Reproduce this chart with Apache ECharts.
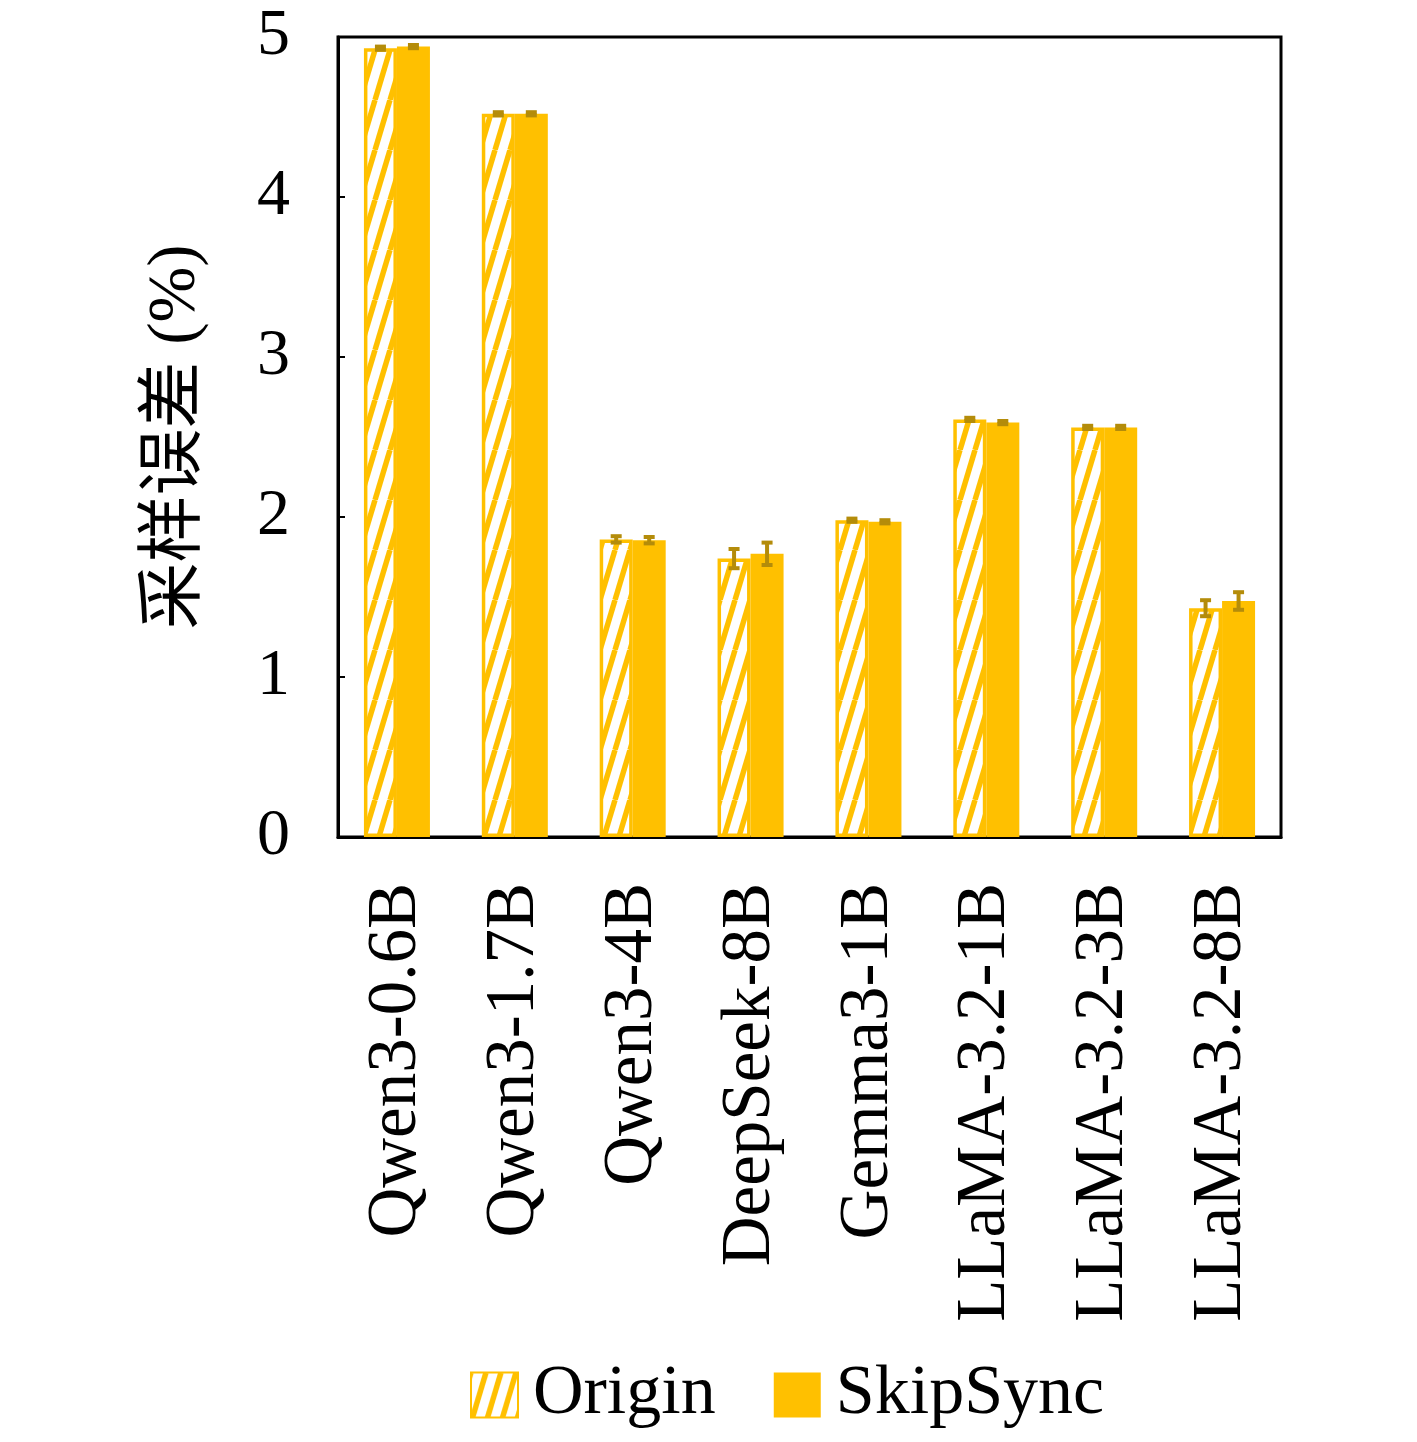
<!DOCTYPE html>
<html>
<head>
<meta charset="utf-8">
<script src="https://cdn.jsdelivr.net/npm/echarts@6/dist/echarts.min.js"></script>
<style>
html,body{margin:0;padding:0;background:#fff;}
#chart{width:1417px;height:1442px;}
</style>
</head>
<body>
<div id="chart"></div>
<script>
const categories = ['Qwen3-0.6B','Qwen3-1.7B','Qwen3-4B','DeepSeek-8B','Gemma3-1B','LLaMA-3.2-1B','LLaMA-3.2-3B','LLaMA-3.2-8B'];
const originValues = [4.93, 4.52, 1.86, 1.74, 1.98, 2.61, 2.56, 1.43];
const skipSyncValues = [4.94, 4.52, 1.855, 1.77, 1.97, 2.59, 2.56, 1.475];
const originErrors = [0.01, 0.01, 0.02, 0.06, 0.01, 0.01, 0.01, 0.05];
const skipSyncErrors = [0.01, 0.01, 0.02, 0.07, 0.01, 0.01, 0.01, 0.055];
const yTicks = [0, 1, 2, 3, 4, 5];

const GOLD = '#FFC000';
const ERR = '#B48C0A';
const SERIF = '"Liberation Serif", "Noto Sans CJK SC", serif';

// hatch pattern
const tile = document.createElement('canvas');
const TW = 15, TH = 50;
tile.width = TW; tile.height = TH;
const c = tile.getContext('2d');
c.fillStyle = '#fff';
c.fillRect(0, 0, TW, TH);
c.strokeStyle = GOLD;
c.lineWidth = 5.5;
for (let k = -1; k <= 1; k++) {
  c.beginPath();
  c.moveTo(k * TW, TH);
  c.lineTo(k * TW + TW, 0);
  c.stroke();
}

const chart = echarts.init(document.getElementById('chart'), null, {renderer: 'canvas'});

function errSeries(name, values, errors, sign) {
  return {
    type: 'custom',
    name: name + '-err',
    z: 10,
    silent: true,
    data: values.map((v, i) => [i, v, errors[i]]),
    renderItem: function (params, api) {
      const i = api.value(0), v = api.value(1), e = api.value(2);
      const band = api.size([1, 0])[0];
      const dx = sign * band * 0.14;
      const top = api.coord([i, v + e]);
      const bot = api.coord([i, v - e]);
      const x = top[0] + dx;
      const hw = 5.5;
      const st = {stroke: ERR, lineWidth: 4};
      return {
        type: 'group',
        children: [
          {type: 'line', shape: {x1: x, y1: top[1], x2: x, y2: bot[1]}, style: st},
          {type: 'line', shape: {x1: x - hw, y1: top[1], x2: x + hw, y2: top[1]}, style: st},
          {type: 'line', shape: {x1: x - hw, y1: bot[1], x2: x + hw, y2: bot[1]}, style: st}
        ]
      };
    }
  };
}

chart.setOption({
  animation: false,
  backgroundColor: '#fff',
  grid: {left: 338, right: 136, top: 37, bottom: 605, show: true, borderColor: '#000', borderWidth: 3, backgroundColor: 'transparent'},
  legend: {
    data: ['Origin', 'SkipSync'],
    top: 1360,
    left: 470,
    padding: 0,
    icon: 'rect',
    itemWidth: 47,
    itemHeight: 45,
    itemGap: 58,
    textStyle: {fontFamily: SERIF, fontSize: 70, color: '#000', padding: [0, 0, 0, 10]}
  },
  xAxis: {
    type: 'category',
    data: categories,
    axisLine: {show: true, lineStyle: {color: '#000', width: 3}},
    axisTick: {show: false},
    axisLabel: {rotate: 90, margin: 46, fontFamily: SERIF, fontSize: 69, color: '#000', interval: 0}
  },
  yAxis: {
    type: 'value',
    min: 0, max: 5, interval: 1,
    name: '采样误差 (%)',
    nameLocation: 'middle',
    nameRotate: 90,
    nameGap: 128,
    nameTextStyle: {fontFamily: SERIF, fontSize: 67, color: '#000'},
    axisLine: {show: true, lineStyle: {color: '#000', width: 3}},
    axisTick: {show: true, inside: true, length: 7, lineStyle: {color: '#000', width: 2}},
    splitLine: {show: false},
    axisLabel: {margin: 48, fontFamily: SERIF, fontSize: 66, color: '#000',
      formatter: v => yTicks.includes(v) ? String(v) : ''}
  },
  series: [
    {
      name: 'Origin', type: 'bar', barWidth: '28%', barGap: '0%',
      data: originValues,
      itemStyle: {color: {image: tile, repeat: 'repeat'}, borderColor: GOLD, borderWidth: 3.5}
    },
    {
      name: 'SkipSync', type: 'bar', barWidth: '28%', barGap: '0%',
      data: skipSyncValues,
      itemStyle: {color: GOLD}
    },
    errSeries('Origin', originValues, originErrors, -1),
    errSeries('SkipSync', skipSyncValues, skipSyncErrors, 1)
  ]
});
</script>
</body>
</html>
